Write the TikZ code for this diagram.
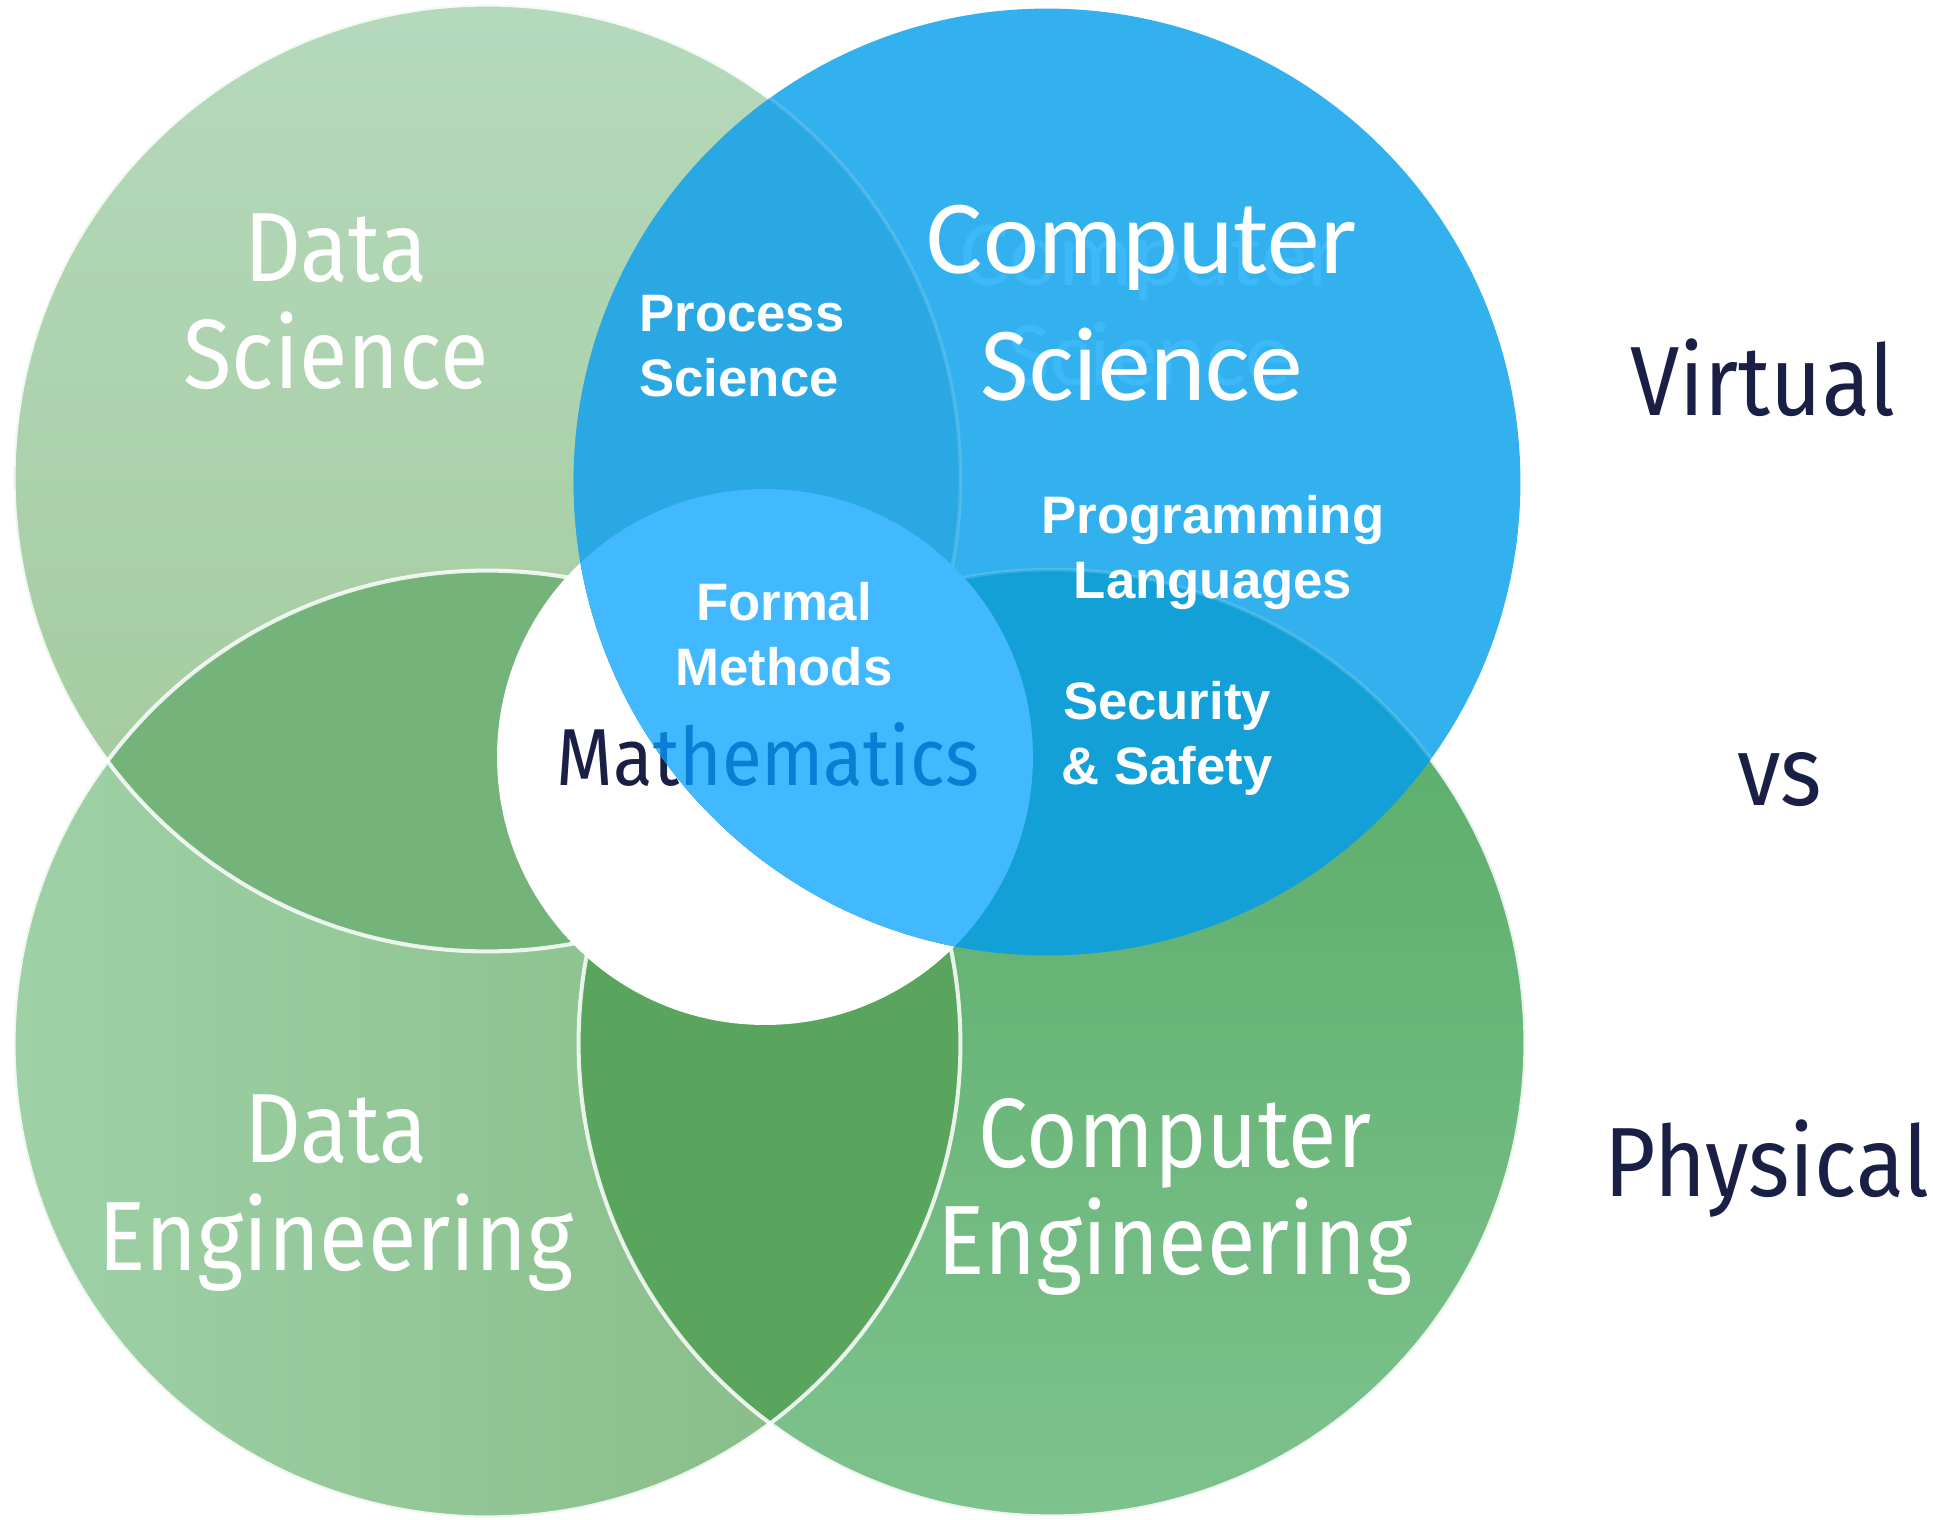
\documentclass[tikz,border=0pt]{standalone}
\usepackage{fontspec}
\usepackage{tikz}
\usetikzlibrary{positioning}
\newfontfamily\titrefont{Fira Sans}[FakeStretch=0.9]
\newfontfamily\csfont{Carlito}
\newfontfamily\grasfont{Liberation Sans}

\definecolor{encre}{HTML}{1A1F45}
\definecolor{bleuCS}{HTML}{33B1EE}
\definecolor{bleuDS}{HTML}{29A8E4}
\definecolor{bleuCE}{HTML}{12A0D6}
\definecolor{bleuMA}{HTML}{42B8FF}
\definecolor{bleuTX}{HTML}{0A7ED4}
\definecolor{bleuFA}{HTML}{3DB8F8}
\definecolor{lensDD}{HTML}{74B47A}
\definecolor{lensEE}{HTML}{5AA55E}

\begin{document}
\begin{tikzpicture}[x=0.02cm, y=-0.02cm,
		titre/.style={font=\titrefont\fontsize{56}{61}\selectfont, text=white, align=center, inner sep=0pt},
		cstitre/.style={font=\csfont\fontsize{60}{72}\selectfont, text=white, align=center, inner sep=0pt},
		fantome/.style={font=\csfont\fontsize{53}{57}\selectfont, text=bleuFA, align=center, inner sep=0pt},
		etiquette/.style={font=\grasfont\bfseries\fontsize{30}{37}\selectfont, text=white, align=center, inner sep=0pt},
		cote/.style={font=\titrefont\fontsize{56}{60}\selectfont, text=encre, anchor=base, inner sep=0pt},
		maths/.style={cote, font=\titrefont\fontsize{46}{50}\selectfont},
		bord/.style={draw=white, draw opacity=0.85, line width=2.3pt},
		trace/.style={draw=white, draw opacity=0.15, line width=2pt}
		]
		\fill[white] (0,0) rectangle (1933,1520);
		\useasboundingbox (0,0) rectangle (1933,1520);
		
		% Les centres
		\coordinate (ds) at (487,478);
		\coordinate (cs) at (1047,482);
		\coordinate (de) at (487,1044);
		\coordinate (ce) at (1052,1043);
		\coordinate (ma) at (765,757);
		\def\R{9.47cm}
		
		% Les cercles verts
		\shade[top color={rgb,255:red,181;green,217;blue,188}, bottom color={rgb,255:red,162;green,201;blue,154}] (ds) circle[radius=\R];
		\shade[left color={rgb,255:red,158;green,209;blue,166}, right color={rgb,255:red,132;green,186;blue,132}] (de) circle[radius=\R];
		\shade[top color={rgb,255:red,86;green,170;blue,101}, bottom color={rgb,255:red,126;green,194;blue,142}] (ce) circle[radius=\R];
		\begin{scope}
			\clip (ds) circle[radius=\R];
			\fill[lensDD] (de) circle[radius=\R];
		\end{scope}
		\begin{scope}
			\clip (de) circle[radius=\R];
			\fill[lensEE] (ce) circle[radius=\R];
		\end{scope}
		\draw[bord] (ds) circle[radius=\R];
		\draw[bord] (de) circle[radius=\R];
		\draw[bord] (ce) circle[radius=\R];
		
		% Le cercle blanc
		\fill[white] (ma) circle[radius=5.36cm];
		\node[maths] (math) at (768,785) {Mathematics};
		
		% Le cercle bleu
		\fill[bleuCS] (cs) circle[radius=\R];
		\begin{scope}
			\clip (cs) circle[radius=\R];
			\fill[bleuDS] (ds) circle[radius=\R];
			\fill[bleuCE] (ce) circle[radius=\R];
			\draw[trace] (ds) circle[radius=\R];
			\draw[trace] (ce) circle[radius=\R];
			\fill[bleuMA] (ma) circle[radius=5.36cm];
			\node[maths, text=bleuTX] (mathb) at (768,785) {Mathematics};
		\end{scope}
		\node[fantome] (csfant) at (1150,306) {Computer\\Science};
		
		% Les titres
		\node[titre] (dsc) at (336,302) {Data\\Science};
		\node[cstitre] (csc) at (1142,303) {Computer\\Science};
		\node[titre] (den) at (336,1193) {Data\\Engineering};
		\node[titre] (cen) at (1175,1197) {Computer\\Engineering};
		
		% Les intersections
		\node[etiquette, align=left] (proc) at (742,346) {Process\\Science};
		\node[etiquette] (form) at (784,634) {Formal\\Methods};
		\node[etiquette] (prog) at (1213,552) {Programming\\Languages};
		\node[etiquette] (secu) at (1167,738) {Security\\\& Safety};
		
		% Virtuel / physique
		\node[cote] (virt) at (1763,415) {Virtual};
		\node[cote] (vs) at (1780,805) {vs};
		\node[cote] (phys) at (1767,1196) {Physical};
	\end{tikzpicture}
\end{document}
